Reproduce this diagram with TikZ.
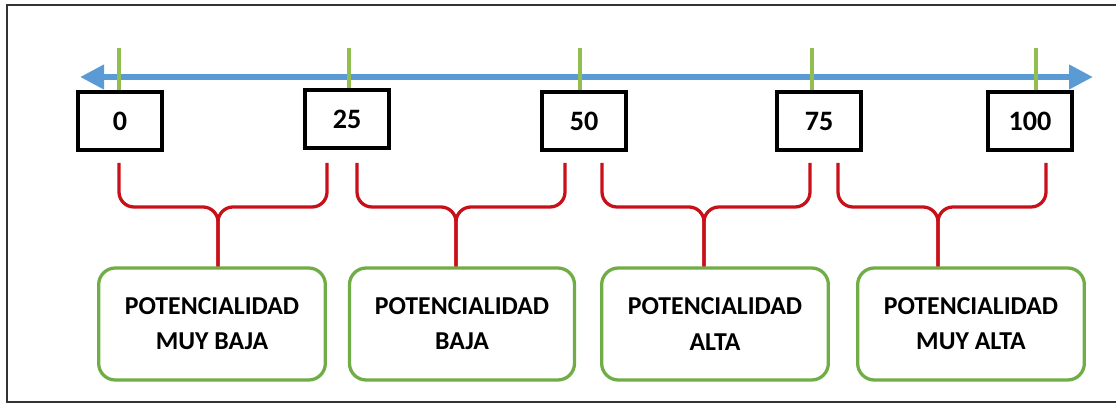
\documentclass[tikz,border=0pt]{standalone}
\usepackage{fontspec}
\setmainfont{Carlito}
\usetikzlibrary{arrows.meta, positioning}

\definecolor{axisblue}{RGB}{91,155,213}
\definecolor{tickgreen}{RGB}{146,190,80}
\definecolor{boxgreen}{RGB}{112,173,71}
\definecolor{bracered}{RGB}{200,16,24}

\tikzset{
  valbox/.style={draw=black, line width=3pt, fill=white, minimum width=2.52cm, minimum height=1.74cm, font=\fontsize{24}{28}\selectfont\bfseries},
  levelbox/.style={draw=boxgreen, line width=2.8pt, rounded corners=0.5cm, minimum width=6.8cm, minimum height=3.36cm, align=center, font=\fontsize{22}{30}\selectfont\bfseries},
  axisline/.style={axisblue, line width=5.5pt, {Triangle[length=0.72cm,width=0.7cm]}-{Triangle[length=0.72cm,width=0.7cm]}},
  tickline/.style={tickgreen, line width=2.8pt},
  bracepart/.style={bracered, line width=2.8pt, rounded corners=0.45cm}
}

\begin{document}
\begin{tikzpicture}[x=0.03cm, y=-0.03cm]
		\useasboundingbox (0,0) rectangle (1116,405);
		% Frame
		\draw[line width=1.8pt, black!80] (1120,5) -- (7,5) -- (7,402) -- (1120,402);
		
		% Axis
		\coordinate (aL) at (80,77);
		\coordinate (aR) at (1093,77);
		\draw[axisline] (aL) -- (aR);
		
		% Value boxes
		\node[valbox] (n0) at (120,121) {0};
		\node[valbox] (n25) at (347,119) {25};
		\node[valbox] (n50) at (584,121) {50};
		\node[valbox] (n75) at (819,121) {75};
		\node[valbox] (n100) at (1030,121) {100};
		
		% Ticks
		\foreach \n/\x in {n0/119, n25/349, n50/580, n75/812, n100/1036}{
			\coordinate (t\n) at (\x,48);
			\draw[tickline] (t\n) -- (t\n |- \n.north);
		}
		
		% Level boxes
		\node[levelbox] (l1) at (212,324) {POTENCIALIDAD\\MUY BAJA};
		\node[levelbox, minimum width=6.75cm] (l2) at (462,324) {POTENCIALIDAD\\BAJA};
		\node[levelbox] (l3) at (715,324) {POTENCIALIDAD\\ALTA};
		\node[levelbox] (l4) at (971,324) {POTENCIALIDAD\\MUY ALTA};
		
		% Braces
		\foreach \l/\a/\c/\b in {l1/119/218/327, l2/357/456/565, l3/602/704/810, l4/838/938/1046}{
			\coordinate (ba) at (\a,163);
			\coordinate (bb) at (\b,163);
			\coordinate (bc) at (\c,207);
			\draw[bracepart] (ba) -- (ba |- bc) -- (bc) -- (bc |- \l.north);
			\draw[bracepart] (bb) -- (bb |- bc) -- (bc) -- (bc |- \l.north);
		}
	\end{tikzpicture}
\end{document}
